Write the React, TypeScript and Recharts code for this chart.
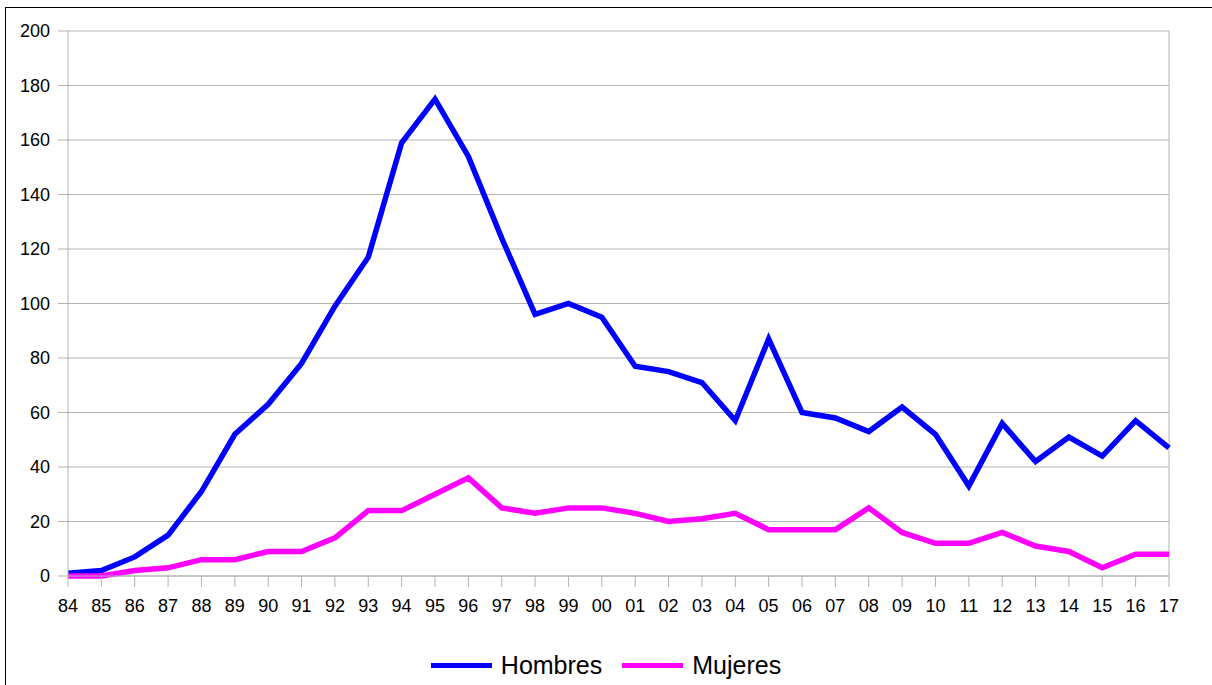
import { LineChart, Line, XAxis, YAxis, CartesianGrid, Legend, ReferenceLine } from "recharts";

const YEARS = ["84", "85", "86", "87", "88", "89", "90", "91", "92", "93", "94", "95", "96", "97", "98", "99", "00", "01", "02", "03", "04", "05", "06", "07", "08", "09", "10", "11", "12", "13", "14", "15", "16", "17"];
const HOMBRES = [1, 2, 7, 15, 31, 52, 63, 78, 99, 117, 159, 175, 154, 124, 96, 100, 95, 77, 75, 71, 57, 87, 60, 58, 53, 62, 52, 33, 56, 42, 51, 44, 57, 47];
const MUJERES = [0, 0, 2, 3, 6, 6, 9, 9, 14, 24, 24, 30, 36, 25, 23, 25, 25, 23, 20, 21, 23, 17, 17, 17, 25, 16, 12, 12, 16, 11, 9, 3, 8, 8];
const Y_TICKS = [0, 20, 40, 60, 80, 100, 120, 140, 160, 180, 200];

const SERIES = [
  { key: "Hombres", color: "#0000ff" },
  { key: "Mujeres", color: "#ff00ff" },
];

const data = YEARS.map((y, i) => ({ year: y, Hombres: HOMBRES[i], Mujeres: MUJERES[i] }));

const FONT = "'Liberation Sans', Arial, sans-serif";

function LegendBox() {
  return (
    <div style={{ display: "flex", justifyContent: "center", alignItems: "center", fontFamily: FONT, fontSize: 25, color: "#000" }}>
      {SERIES.map((s, i) => (
        <div key={s.key} style={{ display: "flex", alignItems: "center", marginLeft: i ? 20 : 0 }}>
          <span style={{ display: "inline-block", width: 61, height: 5, background: s.color, marginRight: 9 }} />
          <span>{s.key}</span>
        </div>
      ))}
    </div>
  );
}

export default function App() {
  return (
    <div style={{ position: "fixed", left: 0, top: 0, width: 1212, height: 685, background: "#fff", fontFamily: FONT }}>
      <div style={{ position: "absolute", left: 5, top: 7, width: 1212, height: 700, borderLeft: "1px solid #000", borderTop: "1px solid #000" }} />
      <LineChart width={1212} height={685} data={data} margin={{ top: 31, right: 43, left: 8, bottom: 69 }}>
        <CartesianGrid vertical={false} stroke="#b3b3b3" />
        <XAxis
          dataKey="year"
          interval={0}
          stroke="#b3b3b3"
          tickSize={11}
          tickMargin={12}
          height={40}
          tick={{ fill: "#000", fontSize: 18, fontFamily: FONT }}
        />
        <YAxis
          domain={[0, 200]}
          ticks={Y_TICKS}
          width={60}
          stroke="#b3b3b3"
          tickSize={10}
          tickMargin={8}
          tick={{ fill: "#000", fontSize: 18, fontFamily: FONT }}
        />
        <ReferenceLine x="17" stroke="#b3b3b3" />
        {SERIES.map((s) => (
          <Line key={s.key} type="linear" dataKey={s.key} stroke={s.color} strokeWidth={5.5} dot={false} isAnimationActive={false} />
        ))}
        <Legend verticalAlign="middle" align="center" layout="horizontal" wrapperStyle={{ top: 651, left: 0, width: 1212 }} content={() => <LegendBox />} />
      </LineChart>
    </div>
  );
}
